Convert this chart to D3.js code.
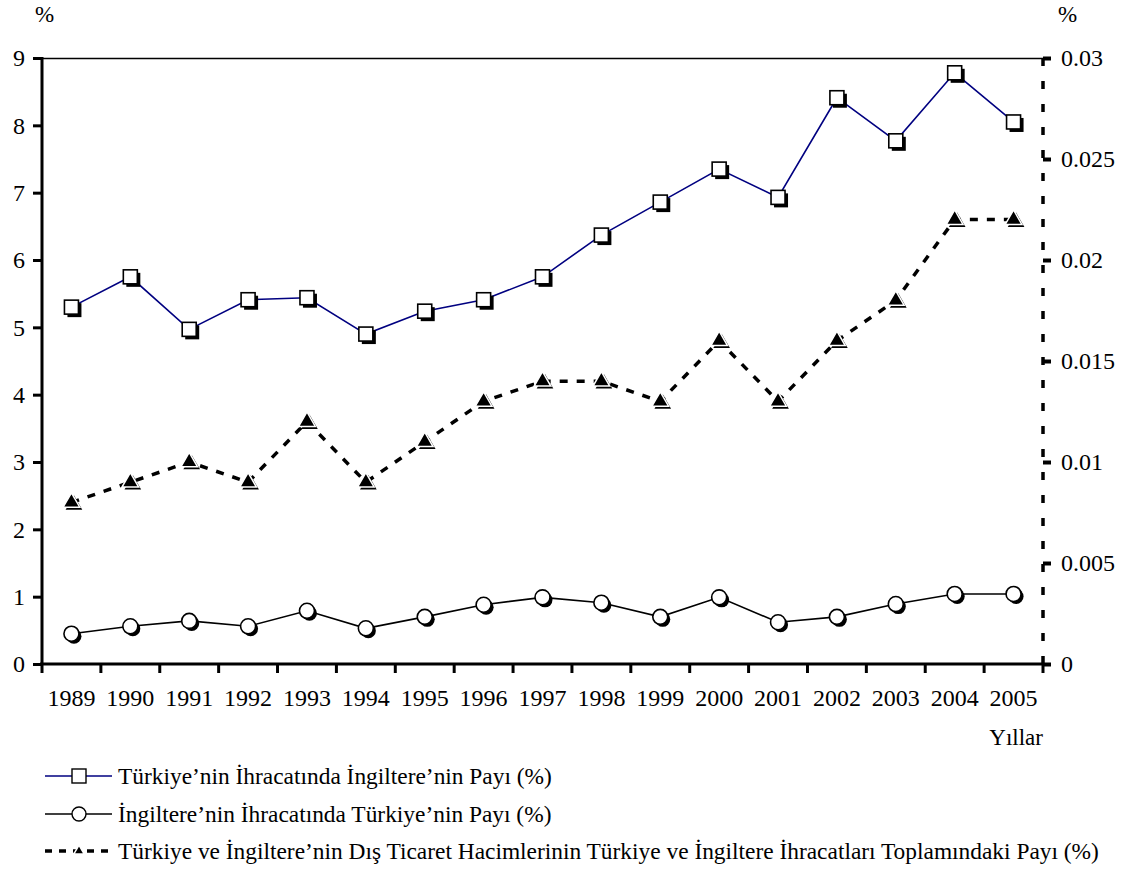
<!DOCTYPE html>
<html><head><meta charset="utf-8">
<script src="https://cdn.jsdelivr.net/npm/d3@7"></script>
<style>
body{margin:0;background:#fff;}
svg, svg text{font-family:"Liberation Serif","Times New Roman",Times,"DejaVu Serif",serif !important;}
</style></head>
<body>
<svg id="c" width="1131" height="872"></svg>
<script>
const years = [1989,1990,1991,1992,1993,1994,1995,1996,1997,1998,1999,2000,2001,2002,2003,2004,2005];
const trExportUKShare = [5.30,5.75,4.97,5.41,5.44,4.90,5.24,5.41,5.75,6.37,6.86,7.35,6.93,8.41,7.77,8.78,8.05];
const ukExportTRShare = [0.45,0.56,0.64,0.56,0.79,0.53,0.70,0.88,0.99,0.91,0.70,0.99,0.62,0.70,0.89,1.04,1.04];
const tradeVolumeShare = [0.008,0.009,0.010,0.009,0.012,0.009,0.011,0.013,0.014,0.014,0.013,0.016,0.013,0.016,0.018,0.022,0.022];
const leftTicks = [0,1,2,3,4,5,6,7,8,9];
const rightTicks = [0,0.005,0.01,0.015,0.02,0.025,0.03];
const legendLabels = [
  "Türkiye’nin İhracatında İngiltere’nin Payı (%)",
  "İngiltere’nin İhracatında Türkiye’nin Payı (%)",
  "Türkiye ve İngiltere’nin Dış Ticaret Hacimlerinin Türkiye ve İngiltere İhracatları Toplamındaki Payı (%)"
];

const FONT = '"Liberation Serif","Times New Roman",serif';
const svg = d3.select("#c");
const L = 42, R = 1043, T = 58, B = 664;
const x = d3.scaleBand().domain(years).range([L, R]).padding(0);
const cx = d => x(d) + x.bandwidth()/2;
const yL = d3.scaleLinear().domain([0,9]).range([B, T]);
const yR = d3.scaleLinear().domain([0,0.03]).range([B, T]);

// top border
svg.append("line").attr("x1",L).attr("x2",R).attr("y1",T+0.5).attr("y2",T+0.5)
  .attr("stroke","#000").attr("stroke-width",1.3);

// left axis
const gl = svg.append("g").attr("transform",`translate(${L},0)`)
  .call(d3.axisLeft(yL).tickValues(leftTicks).tickSize(9).tickPadding(8).tickFormat(d3.format("d")));
gl.attr("font-family",FONT);
gl.select(".domain").remove();
gl.selectAll(".tick line").attr("stroke","#000").attr("stroke-width",3);
gl.selectAll("text").attr("font-size",24).style("font-family",FONT).attr("fill","#000");
svg.append("line").attr("x1",L).attr("x2",L).attr("y1",T-1).attr("y2",B+1).attr("stroke","#000").attr("stroke-width",3);

// right axis (dashed)
const gr = svg.append("g").attr("transform",`translate(${R},0)`)
  .call(d3.axisRight(yR).tickValues(rightTicks).tickSize(8).tickPadding(10).tickFormat(d => d===0?"0":String(d)));
gr.attr("font-family",FONT);
gr.select(".domain").remove();
gr.selectAll(".tick line").attr("stroke","#000").attr("stroke-width",4);
gr.selectAll("text").attr("font-size",24).style("font-family",FONT).attr("fill","#000");
svg.append("line").attr("x1",R).attr("x2",R).attr("y1",T).attr("y2",B)
  .attr("stroke","#000").attr("stroke-width",3.5).attr("stroke-dasharray","8,15");

// x axis
const gx = svg.append("g").attr("transform",`translate(0,${B})`)
  .call(d3.axisBottom(x).tickSize(0).tickPadding(25));
gx.attr("font-family",FONT);
gx.select(".domain").remove();
gx.selectAll("text").attr("font-size",24).style("font-family",FONT).attr("fill","#000");
const bounds = years.map(d => x(d)).concat([R]);
svg.append("g").selectAll("line").data(bounds).join("line")
  .attr("x1",d=>d).attr("x2",d=>d).attr("y1",B).attr("y2",B+9)
  .attr("stroke","#000").attr("stroke-width",3);
svg.append("line").attr("x1",L-2).attr("x2",R).attr("y1",B).attr("y2",B).attr("stroke","#000").attr("stroke-width",3);

// axis titles
const tg = svg.append("g").attr("font-family",FONT);
tg.append("text").attr("x",35).attr("y",22).attr("font-size",23).text("%");
tg.append("text").attr("x",1058).attr("y",22).attr("font-size",23).text("%");
tg.append("text").attr("x",R).attr("y",745).attr("text-anchor","end").attr("font-size",23).text("Yıllar");

// series 3: dashed triangles
const lineR = d3.line().x((d,i)=>cx(years[i])).y(d=>yR(d));
svg.append("path").datum(tradeVolumeShare).attr("d",lineR).attr("fill","none")
  .attr("stroke","#000").attr("stroke-width",3.5).attr("stroke-dasharray","8,9");

// series 1: squares
const line1 = d3.line().x((d,i)=>cx(years[i])).y(d=>yL(d));
svg.append("path").datum(trExportUKShare).attr("d",line1).attr("fill","none")
  .attr("stroke","#000080").attr("stroke-width",1.6);
// series 2: circles
svg.append("path").datum(ukExportTRShare).attr("d",line1).attr("fill","none")
  .attr("stroke","#000").attr("stroke-width",1.6);

const tri = d3.symbol().type(d3.symbolTriangle).size(120);
const gT = svg.append("g");
gT.selectAll(".ts").data(tradeVolumeShare).join("path")
  .attr("transform",(d,i)=>`translate(${cx(years[i])+2.5},${yR(d)+2.5})`).attr("d",tri).attr("fill","#000");
gT.selectAll(".tm").data(tradeVolumeShare).join("path").attr("class","tm")
  .attr("transform",(d,i)=>`translate(${cx(years[i])},${yR(d)})`).attr("d",tri)
  .attr("fill","#000").attr("stroke","#fff").attr("stroke-width",1.5);

const sq = 14;
const gS = svg.append("g");
gS.selectAll(".ss").data(trExportUKShare).join("rect")
  .attr("x",(d,i)=>cx(years[i])-sq/2+3).attr("y",d=>yL(d)-sq/2+3).attr("width",sq).attr("height",sq).attr("fill","#000");
gS.selectAll(".sm").data(trExportUKShare).join("rect").attr("class","sm")
  .attr("x",(d,i)=>cx(years[i])-sq/2).attr("y",d=>yL(d)-sq/2).attr("width",sq).attr("height",sq)
  .attr("fill","#fff").attr("stroke","#000").attr("stroke-width",1.6);

const gC = svg.append("g");
gC.selectAll(".cs").data(ukExportTRShare).join("circle")
  .attr("cx",(d,i)=>cx(years[i])+2.5).attr("cy",d=>yL(d)+2.5).attr("r",7.5).attr("fill","#000");
gC.selectAll(".cm").data(ukExportTRShare).join("circle").attr("class","cm")
  .attr("cx",(d,i)=>cx(years[i])).attr("cy",d=>yL(d)).attr("r",7.5)
  .attr("fill","#fff").attr("stroke","#000").attr("stroke-width",1.6);

// legend
const legY = [776, 814, 851];
const lg = svg.append("g").attr("font-family",FONT);
lg.append("line").attr("x1",45).attr("x2",112).attr("y1",legY[0]).attr("y2",legY[0]).attr("stroke","#000080").attr("stroke-width",1.6);
lg.append("rect").attr("x",79-7).attr("y",legY[0]-7).attr("width",14).attr("height",14).attr("fill","#fff").attr("stroke","#000").attr("stroke-width",1.4);
lg.append("line").attr("x1",45).attr("x2",112).attr("y1",legY[1]).attr("y2",legY[1]).attr("stroke","#000").attr("stroke-width",1.6);
lg.append("circle").attr("cx",79).attr("cy",legY[1]).attr("r",7).attr("fill","#fff").attr("stroke","#000").attr("stroke-width",1.4);
lg.append("line").attr("x1",45).attr("x2",112).attr("y1",legY[2]).attr("y2",legY[2]).attr("stroke","#000").attr("stroke-width",3.5).attr("stroke-dasharray","7,7");
lg.append("path").attr("transform",`translate(79,${legY[2]})`).attr("d",d3.symbol().type(d3.symbolTriangle).size(45)).attr("fill","#000").attr("stroke","#fff").attr("stroke-width",1.5);
lg.selectAll("text").data(legendLabels).join("text")
  .attr("x",118).attr("y",(d,i)=>legY[i]+8).attr("font-size",23.4).style("font-family",FONT).attr("fill","#000").text(d=>d);
</script>
</body></html>
